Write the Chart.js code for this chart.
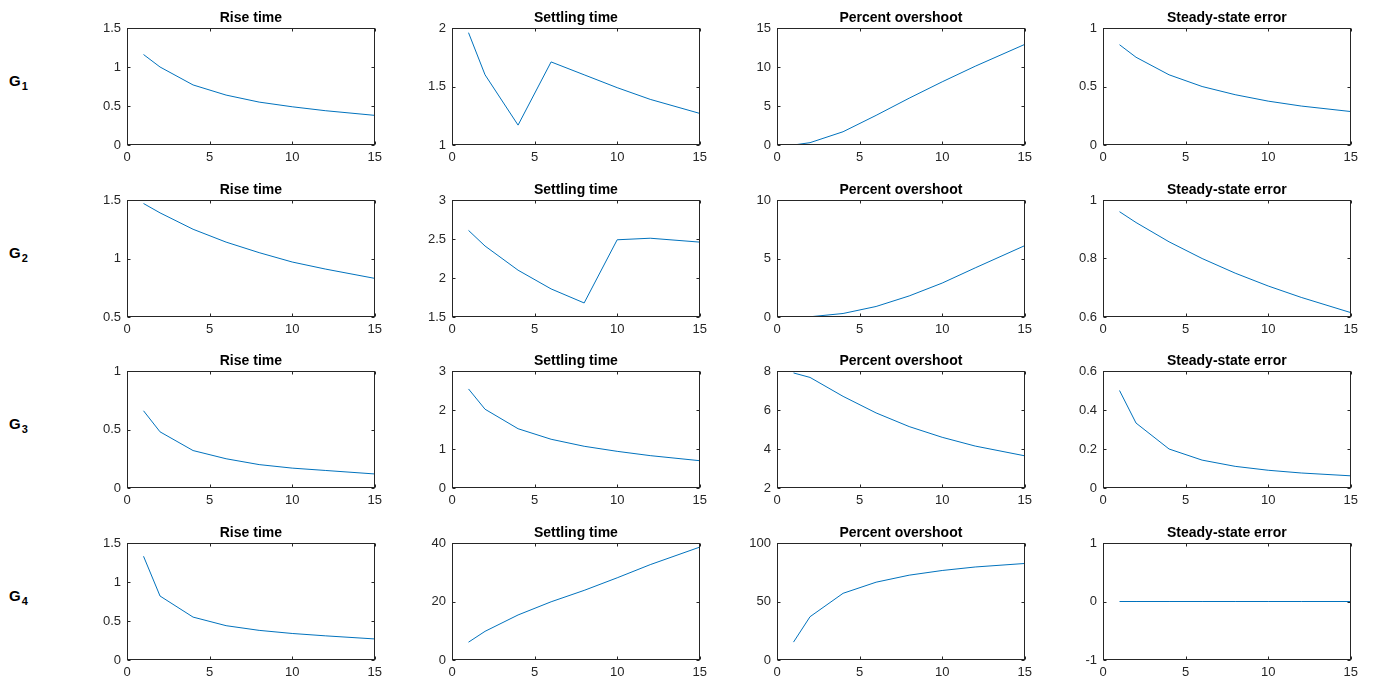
<!DOCTYPE html>
<html>
<head>
<meta charset="utf-8">
<script src="https://cdn.jsdelivr.net/npm/chart.js@4"></script>
<style>
  body { margin: 0; background: #fff; width: 1374px; height: 684px; position: relative; overflow: hidden; }
  canvas { position: absolute; }
  .g { position: absolute; left: 9px; font: bold 15px "Liberation Sans", Arial, sans-serif; color: #000; line-height: 18px; }
  .g sub { font-size: 11px; vertical-align: -4px; margin-left: 1px; }
</style>
</head>
<body>
<script>
// x values (gain) shared by every subplot
var xs = [1, 2, 4, 6, 8, 10, 12, 15];

var titles = ['Rise time', 'Settling time', 'Percent overshoot', 'Steady-state error'];
var systems = ['1', '2', '3', '4'];

// G1
var riseG1   = [1.16, 1.00, 0.77, 0.64, 0.55, 0.49, 0.44, 0.38];
var settleG1 = [1.96, 1.60, 1.17, 1.71, 1.60, 1.49, 1.39, 1.27];
var overG1   = [0.0, 0.3, 1.7, 3.8, 6.0, 8.1, 10.1, 12.9];
var errG1    = [0.857, 0.75, 0.6, 0.5, 0.43, 0.375, 0.333, 0.286];
// G2
var riseG2   = [1.47, 1.39, 1.25, 1.14, 1.05, 0.97, 0.91, 0.83];
var settleG2 = [2.61, 2.41, 2.10, 1.86, 1.68, 2.49, 2.51, 2.46];
var overG2   = [0.0, 0.02, 0.3, 0.9, 1.8, 2.9, 4.2, 6.1];
var errG2    = [0.96, 0.923, 0.857, 0.8, 0.75, 0.706, 0.667, 0.615];
// G3
var riseG3   = [0.66, 0.48, 0.32, 0.25, 0.20, 0.17, 0.15, 0.12];
var settleG3 = [2.54, 2.02, 1.52, 1.25, 1.07, 0.94, 0.83, 0.70];
var overG3   = [7.9, 7.67, 6.7, 5.85, 5.15, 4.6, 4.15, 3.65];
var errG3    = [0.5, 0.333, 0.2, 0.143, 0.111, 0.091, 0.077, 0.0625];
// G4
var riseG4   = [1.33, 0.82, 0.55, 0.44, 0.38, 0.34, 0.31, 0.27];
var settleG4 = [6.1, 9.8, 15.4, 19.9, 23.8, 28.1, 32.6, 38.6];
var overG4   = [15.3, 37, 57, 66.5, 72.5, 76.5, 79.5, 82.5];
var errG4    = [0, 0, 0, 0, 0, 0, 0, 0];

var series = [
  [riseG1, settleG1, overG1, errG1],
  [riseG2, settleG2, overG2, errG2],
  [riseG3, settleG3, overG3, errG3],
  [riseG4, settleG4, overG4, errG4]
];

// y axis limits [min, max, step] per subplot
var yLimits = [
  [[0, 1.5, 0.5], [1, 2, 0.5], [0, 15, 5], [0, 1, 0.5]],
  [[0.5, 1.5, 0.5], [1.5, 3, 0.5], [0, 10, 5], [0.6, 1, 0.2]],
  [[0, 1, 0.5], [0, 3, 1], [2, 8, 2], [0, 0.6, 0.2]],
  [[0, 1.5, 0.5], [0, 40, 20], [0, 100, 50], [-1, 1, 1]]
];

// layout of the grid (plot areas)
var colLeft = [127, 452, 777, 1103];
var rowTop = [28, 200, 371, 543];
var plotW = 248, plotH = 117;
var axisW = 45, titleH = 25, xAxisH = 24, padR = 12;

var axColor = '#262626';
var lineColor = 'rgb(0,114,189)';

// MATLAB-like box with inward tick marks
var boxPlugin = {
  id: 'box',
  afterDraw: function (chart) {
    var ctx = chart.ctx, a = chart.chartArea, x = chart.scales.x, y = chart.scales.y;
    var L = Math.round(a.left) + 0.5, R = Math.round(a.right) - 0.5;
    var T = Math.round(a.top) + 0.5, B = Math.round(a.bottom) - 0.5;
    ctx.save();
    ctx.strokeStyle = axColor;
    ctx.lineWidth = 1;
    ctx.strokeRect(L, T, R - L, B - T);
    ctx.beginPath();
    x.ticks.forEach(function (t) {
      var px = Math.round(x.getPixelForValue(t.value)) + 0.5;
      ctx.moveTo(px, B); ctx.lineTo(px, B - 3);
      ctx.moveTo(px, T); ctx.lineTo(px, T + 3);
    });
    y.ticks.forEach(function (t) {
      var py = Math.round(y.getPixelForValue(t.value)) + 0.5;
      ctx.moveTo(L, py); ctx.lineTo(L + 3, py);
      ctx.moveTo(R, py); ctx.lineTo(R - 3, py);
    });
    ctx.stroke();
    ctx.restore();
  }
};

var tickFont = { family: '"Liberation Sans", Arial, sans-serif', size: 13 };

for (var r = 0; r < 4; r++) {
  var lab = document.createElement('div');
  lab.className = 'g';
  lab.style.top = (rowTop[r] + plotH / 2 - 15) + 'px';
  lab.innerHTML = 'G<sub>' + systems[r] + '</sub>';
  document.body.appendChild(lab);

  for (var c = 0; c < 4; c++) {
    var cv = document.createElement('canvas');
    var w = axisW + plotW + padR, h = titleH + plotH + xAxisH;
    cv.width = w; cv.height = h;
    cv.style.width = w + 'px'; cv.style.height = h + 'px';
    cv.style.left = (colLeft[c] - axisW) + 'px';
    cv.style.top = (rowTop[r] - titleH) + 'px';
    document.body.appendChild(cv);

    var vals = series[r][c];
    var lim = yLimits[r][c];
    new Chart(cv.getContext('2d'), {
      type: 'line',
      data: {
        datasets: [{
          data: xs.map(function (x, i) { return { x: x, y: vals[i] }; }),
          borderColor: lineColor,
          borderWidth: 1,
          pointRadius: 0,
          tension: 0,
          fill: false
        }]
      },
      options: {
        responsive: false,
        animation: false,
        devicePixelRatio: 1,
        layout: { padding: { left: 0, right: padR, top: 0, bottom: 0 } },
        plugins: {
          legend: { display: false },
          tooltip: { enabled: false },
          title: {
            display: true,
            text: titles[c],
            fullSize: false,
            color: '#000',
            font: { family: '"Liberation Sans", Arial, sans-serif', size: 14, weight: 'bold', lineHeight: '16px' },
            padding: { top: 7, bottom: 2 }
          }
        },
        scales: {
          x: {
            type: 'linear', min: 0, max: 15,
            afterFit: function (s) { s.height = xAxisH; },
            grid: { display: false, drawTicks: false },
            border: { display: false },
            ticks: { stepSize: 5, padding: 5, color: axColor, font: tickFont, maxRotation: 0 }
          },
          y: {
            type: 'linear', min: lim[0], max: lim[1],
            afterFit: function (s) { s.width = axisW; },
            grid: { display: false, drawTicks: false },
            border: { display: false },
            ticks: {
              stepSize: lim[2], padding: 6, color: axColor, font: tickFont,
              callback: function (v) { return String(+v.toFixed(2)); }
            }
          }
        }
      },
      plugins: [boxPlugin]
    });
  }
}
</script>
</body>
</html>
